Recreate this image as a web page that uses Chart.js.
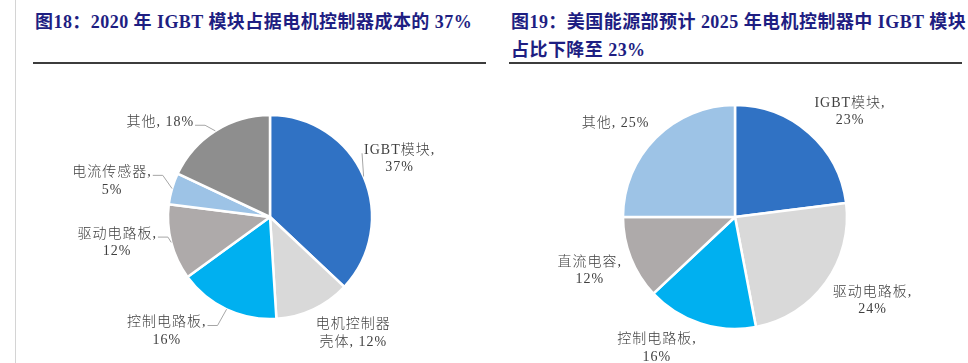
<!DOCTYPE html>
<html>
<head>
<meta charset="utf-8">
<script src="https://cdn.jsdelivr.net/npm/chart.js@4.4.1/dist/chart.umd.min.js"></script>
<style>
  html, body { margin: 0; padding: 0; background: #fff; }
  body { width: 968px; height: 363px; position: relative; overflow: hidden; }
  .title {
    position: absolute; font-family: "Liberation Serif", "Noto Sans CJK SC", serif;
    font-weight: bold; font-size: 18px; line-height: 28px; color: #1e1e82;
    white-space: nowrap; letter-spacing: 0.45px;
  }
  .rule { position: absolute; height: 2px; background: #3c3c3c; }
  .vline { position: absolute; left: 15px; top: 0; width: 1px; height: 363px; background: #d4d4d4; }
  canvas { position: absolute; }
</style>
</head>
<body>
<div class="vline"></div>
<div class="title" style="left:35px; top:8px;">图18：2020 年 IGBT 模块占据电机控制器成本的 37%</div>
<div class="rule" style="left:33px; width:453px; top:62px;"></div>
<div class="title" style="left:511px; top:8px;">图19：美国能源部预计 2025 年电机控制器中 IGBT 模块<br>占比下降至 23%</div>
<div class="rule" style="left:509px; width:453px; top:62px;"></div>
<canvas id="c1" width="470" height="297" style="left:20px; top:66px;"></canvas>
<canvas id="c2" width="473" height="297" style="left:495px; top:66px;"></canvas>
<script>
// ---------- data ----------
const categories1 = ['IGBT模块', '电机控制器壳体', '控制电路板', '驱动电路板', '电流传感器', '其他'];
const values1 = [37, 12, 16, 12, 5, 18];
const categories2 = ['IGBT模块', '驱动电路板', '控制电路板', '直流电容', '其他'];
const values2 = [23, 24, 16, 12, 25];

// ---------- styles ----------
const colors1 = ['#3072C4', '#D9D9D9', '#00B0F0', '#AEAAAA', '#9DC3E6', '#8E8E8E'];
const colors2 = ['#3072C4', '#D9D9D9', '#00B0F0', '#AEAAAA', '#9DC3E6'];

// label layout: chars of category on line 1 (99 = whole + comma, -1 = single line)
const split1 = [99, 5, 99, 99, 99, -1];
const split2 = [99, 99, 99, 99, -1];
// label placement relative to slice mid-angle (degrees shift, distance from center px)
const shift1 = [-0.7, -10.4, 16.9, 4.8, -3.4, -16.8];
const dist1  = [142, 143, 154, 155, 162, 145];
const leader1 = [true, false, true, true, true, true];
const shift2 = [6.1, -4.7, 12.7, 1.2, -6.8];
const dist2  = [156, 161, 153, 155, 152];
const leader2 = [false, false, false, false, false];

function labelLines(cat, val, n) {
  if (n < 0) return [cat + ', ' + val + '%'];
  if (n >= cat.length) return [cat + ',', val + '%'];
  return [cat.slice(0, n), cat.slice(n) + ', ' + val + '%'];
}

const outLabels = {
  id: 'outLabels',
  afterDatasetsDraw(chart, args, opts) {
    const ctx = chart.ctx;
    const meta = chart.getDatasetMeta(0);
    const ds = chart.data.datasets[0];
    ctx.save();
    ctx.font = '300 14px "Liberation Serif", "Noto Sans CJK SC", serif';
    if ('letterSpacing' in ctx) ctx.letterSpacing = '1px';
    ctx.textAlign = 'center';
    ctx.textBaseline = 'middle';
    const lh = 17.5;
    meta.data.forEach((arc, i) => {
      const p = arc.getProps(['x', 'y', 'startAngle', 'endAngle', 'outerRadius'], true);
      const mid = (p.startAngle + p.endAngle) / 2;
      const ang = mid + opts.shift[i] * Math.PI / 180;
      const lx = p.x + Math.cos(ang) * opts.dist[i];
      const ly = p.y + Math.sin(ang) * opts.dist[i];
      const lines = labelLines(chart.data.labels[i], ds.data[i], opts.split[i]);
      const y0 = ly - (lines.length - 1) * lh / 2;
      ctx.fillStyle = '#404040';
      lines.forEach((t, k) => ctx.fillText(t, lx, y0 + k * lh));
      if (opts.leader[i]) {
        const w = ctx.measureText(lines[0]).width;
        const ex = p.x + Math.cos(mid) * p.outerRadius;
        const ey = p.y + Math.sin(mid) * p.outerRadius;
        const left = lx < p.x;
        const ax = left ? lx + w / 2 + 1 : lx - w / 2 - 2;
        const ay = y0 + 3;
        const bx = left ? ax + 10 : ax;
        ctx.strokeStyle = '#A6A6A6';
        ctx.lineWidth = 1;
        ctx.beginPath();
        ctx.moveTo(ax, ay);
        ctx.lineTo(bx, ay);
        ctx.lineTo(ex, ey);
        ctx.stroke();
      }
    });
    ctx.restore();
  }
};

function makePie(id, cats, vals, cols, radius, pad, lab) {
  return new Chart(document.getElementById(id), {
    type: 'pie',
    data: {
      labels: cats,
      datasets: [{
        data: vals,
        backgroundColor: cols,
        borderColor: '#FFFFFF',
        borderWidth: 2.5,
        radius: radius
      }]
    },
    options: {
      responsive: false,
      animation: false,
      devicePixelRatio: 1,
      layout: { padding: pad },
      plugins: {
        legend: { display: false },
        tooltip: { enabled: false },
        outLabels: lab
      }
    },
    plugins: [outLabels]
  });
}

makePie('c1', categories1, values1, colors1, 102,
  { left: 30, right: 0, top: 5, bottom: 0 },
  { shift: shift1, dist: dist1, split: split1, leader: leader1 });
makePie('c2', categories2, values2, colors2, 112,
  { left: 7, right: 0, top: 5, bottom: 0 },
  { shift: shift2, dist: dist2, split: split2, leader: leader2 });
</script>
</body>
</html>
